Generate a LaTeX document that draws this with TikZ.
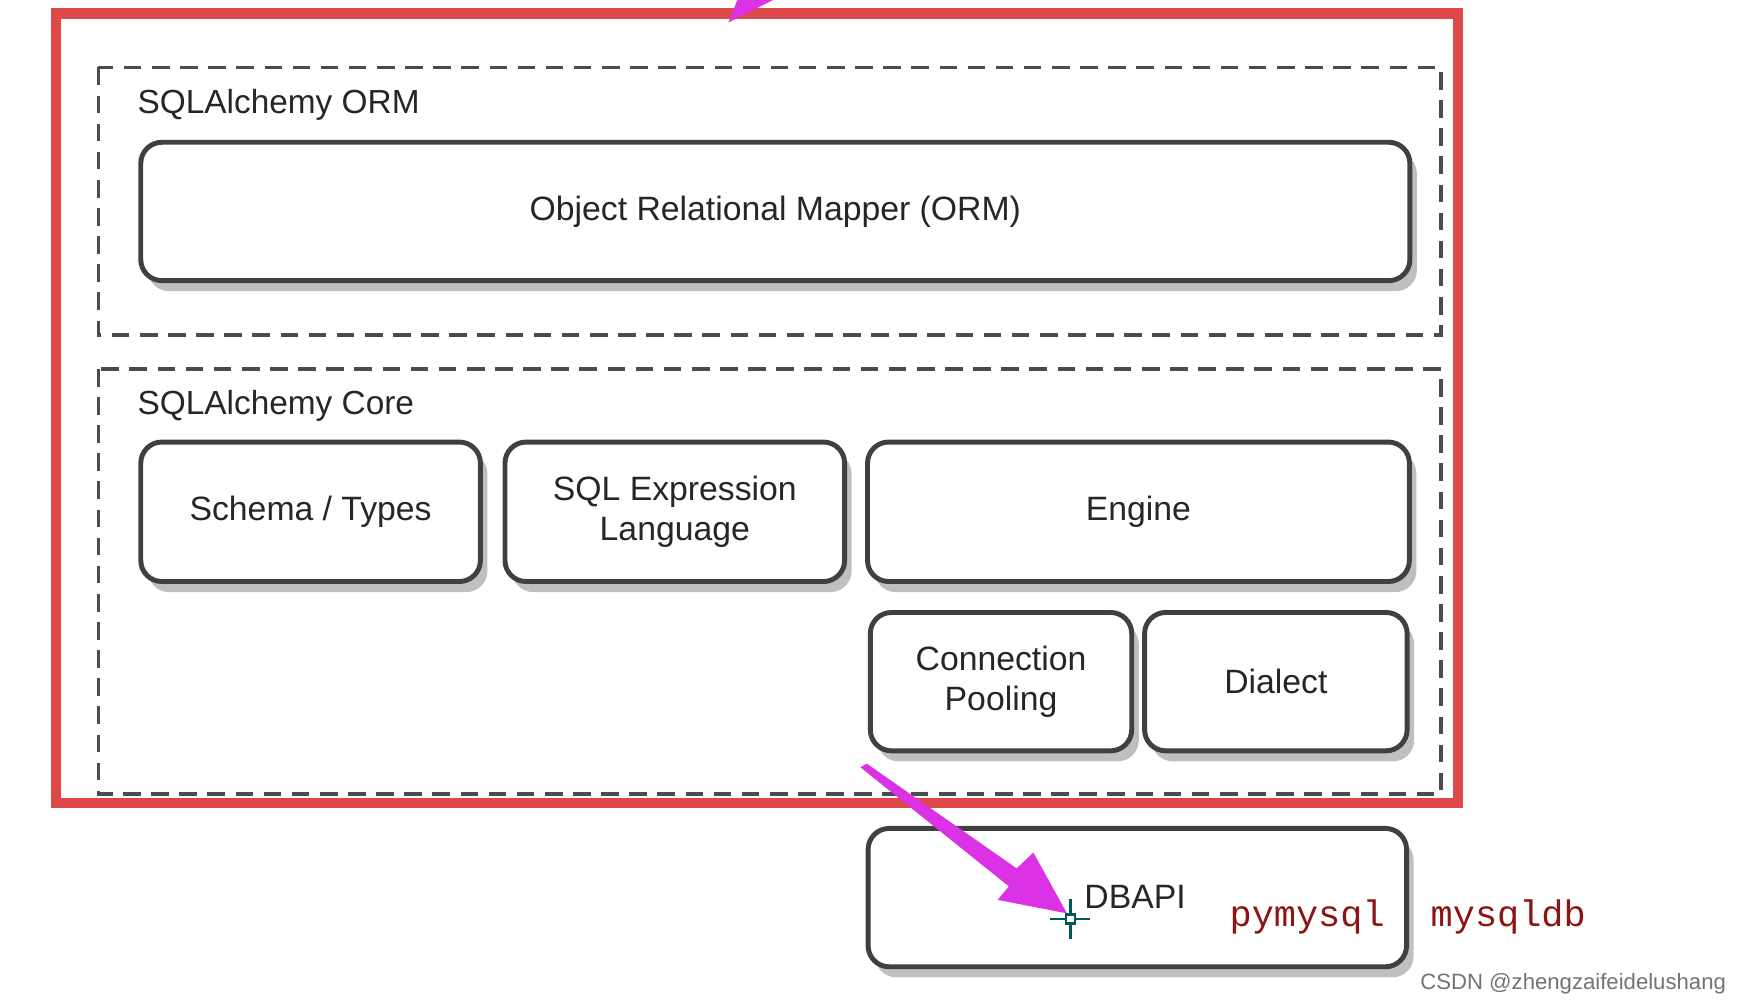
\documentclass[tikz,border=0pt]{standalone}
\usepackage{fontspec}
\setmainfont{Liberation Sans}
\newfontfamily\cour{Liberation Mono}
\usetikzlibrary{shadows,calc}
\definecolor{redb}{RGB}{222,72,72}
\definecolor{mag}{RGB}{220,50,230}
\definecolor{dred}{RGB}{140,20,20}
\newlength{\uu}\setlength{\uu}{0.01117cm}
\begin{document}
\begin{tikzpicture}[x=\uu,y=-0.01125cm,
 box/.style={draw=black!75,line width=1.4pt,rounded corners=6pt,fill=white,
   drop shadow={shadow xshift=2pt,shadow yshift=-3pt,opacity=0.5},align=center,
   font=\fontsize{9.6}{11.5}\selectfont,text=black!85},
 dashbox/.style={draw=black!70,line width=1pt,dash pattern=on 5pt off 3pt},
 lbl/.style={anchor=west,font=\fontsize{9.5}{11}\selectfont,text=black!85},
 cd/.style={font=\cour\fontsize{10.5}{12}\selectfont,text=dred}]
\useasboundingbox (0,0) rectangle (1570,889);
\draw[redb,line width=3pt] (50,12) rectangle (1305,714);
\draw[dashbox] (88,60) rectangle (1290,298);
\node[lbl] (lorm) at (112,93) {SQLAlchemy ORM};
\node[box,minimum width=1136\uu,minimum height=123*0.01125cm] (orm) at (694,188) {Object Relational Mapper (ORM)};
\draw[dashbox] (88,328) rectangle (1290,706);
\node[lbl] (lcore) at (112,361) {SQLAlchemy Core};
\node[box,minimum width=304\uu,minimum height=124*0.01125cm] (sch) at (278,455) {Schema / Types};
\node[box,minimum width=304\uu,minimum height=124*0.01125cm] (sql) at (604,455) {SQL Expression\\Language};
\node[box,minimum width=485\uu,minimum height=124*0.01125cm] (eng) at (1019,455) {Engine};
\node[box,minimum width=234\uu,minimum height=123*0.01125cm] (pool) at (896,606) {Connection\\Pooling};
\node[box,minimum width=235\uu,minimum height=123*0.01125cm] (dia) at (1142,606) {Dialect};
\node[box,minimum width=482\uu,minimum height=123*0.01125cm] (db) at (1018,798) {};
\node[font=\fontsize{9.6}{11}\selectfont,text=black!85] (dbt) at (1016,797) {DBAPI};
\node[cd] (py) at (1170,815) {pymysql};
\node[cd] (my) at (1350,815) {mysqldb};
\node[font=\fontsize{6.3}{7}\selectfont,text=black!55,anchor=east] (wm) at (1556,875) {CSDN @zhengzaifeidelushang};
\fill[mag] (770,682) -- (776,679) -- (910,772) -- (925,758) -- (955,812) -- (893,800) -- (903,788) -- cycle;
\fill[mag] (652,20) -- (660,0) -- (692,0) -- cycle;
\coordinate (cr) at (958,817);
\draw[teal!70!black,line width=0.8pt] ($(cr)+(-18,0)$) -- ++(36,0) ($(cr)+(0,-18)$) -- ++(0,36);
\draw[teal!70!black,fill=white,line width=0.6pt] ($(cr)+(-4,-4)$) rectangle ++(8,8);
\end{tikzpicture}
\end{document}
